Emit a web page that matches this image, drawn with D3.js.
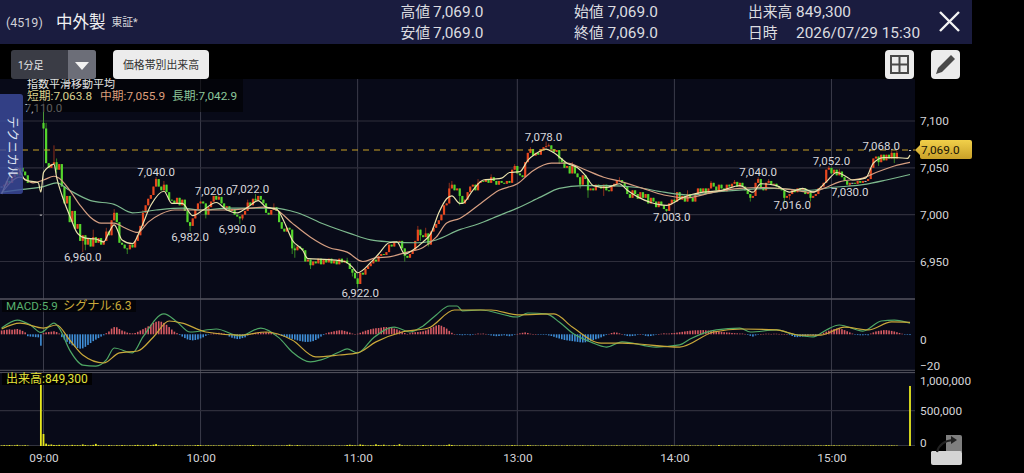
<!DOCTYPE html>
<html>
<head>
<meta charset="utf-8">
<script src="https://cdn.jsdelivr.net/npm/d3@7/dist/d3.min.js"></script>
<style>
  html, body { margin: 0; padding: 0; background: #000; overflow: hidden; }
  svg { display: block; }
  text { font-family: Roboto, "Noto Sans CJK JP", sans-serif; }
</style>
</head>
<body>
<svg id="chart" width="1024" height="473"></svg>
<script>
// ── Data ──────────────────────────────────────────────────────────────────────
// Bars count in minutes from 09:00; negative bars are the tail of the day before.
var firstBar = -16;
var closes = [
  7030,7032,7036,7034,7040,7044,7042,7050,7046,7042,7034,
  null,null,null,null,7000,
  7092,7055,7050,7054,7056,7048,7054,7030,7012,7020,
  6992,7004,6985,6990,6972,6978,6968,6974,6966,6976,
  6970,6975,6968,6972,6982,6978,6994,7002,6992,6970,
  6968,6964,6963,6968,6965,6972,6978,6988,7002,7010,
  7017,7021,7030,7038,7030,7026,7032,7024,7016,7015,
  7012,7018,7010,7016,7004,6992,6988,6996,7006,7012,
  7014,7012,7000,7008,7014,7020,7016,7019,7012,7006,
  7009,7004,7006,7000,6998,6996,7000,7004,7013,7010,
  7017,7015,7020,7016,7012,7002,7000,7005,7008,7004,
  6992,6985,6982,6986,6984,6964,6962,6966,6964,6962,
  6950,6952,6946,6950,6948,6953,6947,6952,6949,6953,
  6948,6951,6947,6953,6949,6951,6948,6942,6938,6932,
  6926,6938,6936,6942,6945,6948,6952,6950,6956,6958,
  6957,6960,6968,6966,6971,6970,6972,6964,6956,6954,
  6958,6962,6972,6984,6978,6976,6980,6968,6982,6986,6990,
  6994,7000,7010,7012,7028,7032,7026,7028,7020,7012,
  7016,7024,7030,7032,7026,7034,7036,7035,7038,7034,
  7040,7036,7032,7036,7034,7033,7036,7034,7048,7052,
  7044,7042,7040,7056,7066,7070,7063,7066,7064,7070,
  7072,7073,7074,7070,7067,7069,7060,7056,7050,7052,
  7044,7052,7044,7040,7032,7042,7038,7026,7028,7026,
  7032,7030,7028,7032,7026,7025,7030,7033,7036,7037,
  7034,7030,7022,7018,7026,7022,7017,7024,7018,7022,
  7012,7018,7014,7008,7014,7010,7006,7004,7012,7016,
  7014,7024,7016,7020,7014,7022,7018,7014,7022,7028,
  7024,7028,7022,7028,7034,7030,7026,7032,7028,7025,
  7032,7030,7033,7035,7030,7034,7030,7026,7022,7018,
  7020,7034,7038,7028,7026,7034,7036,7032,7033,7030,
  7028,7026,7018,7020,7022,7026,7024,7028,7026,7028,
  7022,7024,7018,7020,7022,7028,7030,7034,7048,7050,
  7044,7048,7042,7046,7040,7036,7032,7034,7034,7033,
  7036,7034,7036,7036,7038,7050,7060,7062,7056,7064,
  7058,7064,7060,7066,7060,7066,
  null,null,null,null,7069
];
// Opens that do not sit on the previous close: [bar, price]
var gapOpens = [[0,7098],[331,7069]];
var wickHighs = [[-9,7053],[0,7110],[1,7098],[4,7074],[5,7060],[14,6982],[19,6984],[24,6986],[27,7006],[38,7005],
  [43,7040],[46,7036],[55,7006],[65,7020],[67,7022],[78,7016],[81,7022],[88,7012],[96,6968],[102,6952],
  [116,6954],[143,6988],[146,6986],[155,7034],[156,7036],[166,7038],[171,7043],[180,7054],[186,7072],[192,7078],
  [193,7076],[202,7056],[220,7040],[246,7026],[255,7036],[264,7037],[273,7040],[277,7038],[300,7052],[304,7049],
  [324,7068],[326,7068]];
var wickLows = [[5,7044],[15,6960],[16,6962],[19,6966],[32,6958],[36,6972],[56,6982],[62,6996],[75,6990],[76,6994],
  [95,6958],[96,6954],[102,6942],[118,6934],[120,6922],[138,6950],[144,6972],[147,6966],[159,7010],[197,7054],
  [208,7018],[205,7028],[214,7020],[240,7010],[238,7003],[270,7014],[283,7012],[285,7016],[293,7014],[308,7030],
  [319,7052],[325,7055]];

var shortBars = [-16,-10,-7,-2,-1,0,2,4,5,7,10,13,16,20,23,25,27,30,34,37,41,46,49,53,57,61,66,70,74,78,82,85,89,92,95,99,101,109,115,118,120,125,128,132,135,138,141,145,148,151,154,156,159,160,164,168,172,175,178,182,185,188,192,195,200,204,207,210,215,220,223,227,232,238,244,247,252,259,266,271,274,280,285,290,294,299,303,307,309,314,317,321,326,330,331];
var shortEma  = [7022,7050,7037,7034,7024,7045,7051,7054,7040,7021,6999,6980,6975,6974,6971,6981,6989,6973,6969,6984,7010,7025,7012,7012,6999,7005,7013,7005,7002,7008,7015,7008,7006,6992,6973,6962,6953,6952,6950,6944,6938,6949,6958,6970,6971,6958,6962,6971,6980,7002,7017,7020,7012,7012,7026,7037,7038,7039,7045,7046,7058,7065,7070,7066,7055,7050,7042,7031,7029,7033,7026,7019,7013,7010,7018,7021,7024,7026,7031,7024,7033,7031,7024,7028,7024,7035,7045,7040,7037,7039,7055,7061,7061,7060,7063.8];
var midBars = [-16,-9,-4,0,4,6,10,14,18,22,27,31,36,40,45,50,55,64,71,84,89,95,102,109,116,122,127,132,139,145,150,154,159,167,174,181,187,194,200,206,214,221,229,237,246,256,266,275,285,293,298,304,313,318,325,331];
var midEma  = [7023,7040,7034,7037,7041,7039,7026,7010,6997,6991,6991,6986,6981,6992,7001,7005,7005,7005,7005,7008,7005,6991,6976,6965,6960,6950,6954,6955,6960,6965,6976,6991,6996,7012,7026,7033,7047,7055,7055,7049,7040,7035,7028,7021,7018,7024,7028,7029,7027,7024,7028,7035,7039,7045,7052,7055.9];
var longBars = [-16,-8,0,5,10,18,27,34,43,53,60,71,88,97,107,117,125,132,143,150,159,166,174,181,190,197,206,216,227,237,247,260,279,292,301,313,322,331];
var longEma  = [7024,7027,7030,7034,7026,7015,7011,7002,7005,7007,7005,7007,7007,7002,6990,6980,6973,6971,6970,6973,6984,6990,6999,7007,7019,7028,7031,7031,7029,7024,7021,7025,7028,7026,7029,7032,7037,7042.9];

var macdBars = [-16,-10,-5,-1,4,6,10,15,20,24,27,34,38,46,51,56,66,75,83,90,95,102,106,113,116,120,126,134,140,145,150,155,158,160,167,181,185,192,197,202,209,215,221,234,243,247,257,266,270,280,286,294,299,304,313,320,325,331];
var macdLine = [3.3,7.5,4.9,1,5.9,3.3,-8.3,-16.2,-16.7,-13.5,-7.2,-9.8,-1.4,10.7,6.5,1.2,2.8,-0.9,3.3,-1.9,-9.3,-14.5,-13.5,-9.3,-7.7,-9.8,-1.9,3.8,1.2,4.4,10.2,14.9,14.9,12.3,12.8,9.1,11.2,10.7,6.5,0.7,-4,-6.7,-4,-6.7,-5.6,-2.5,2.3,3.3,1.2,2.3,0.2,-1.4,2.3,4.9,1.7,7,7.5,5.9];
var signalBars = [-16,-9,0,5,10,15,23,29,36,42,48,53,62,75,85,95,104,113,120,127,137,147,157,171,181,195,202,213,221,243,256,267,280,289,297,306,315,324,331];
var signalLine = [2.8,5.9,3.3,4.9,-3,-10.9,-15.1,-9.8,-8.8,-1.4,7,5.9,1.2,-0.4,1.2,-3,-11.9,-10.9,-9.8,-4,1.2,3.3,12.8,12.8,10.2,10.7,3.8,-4.6,-4.6,-6.7,1.2,2.8,2.3,-0.4,-0.4,3.8,2.3,6.5,6.3];

// One histogram value per bar, same order as closes
var histogram = [
  2,2.2,2.4,2.6,2.4,2.6,2.8,2.4,1.8,1,-1,
  -1.2,-1.3,-1.5,-1.6,-6,
  0.6,1,1.2,1.4,1.6,1.2,0.4,-1.5,-2.8,-4,
  -5,-5.8,-6.6,-7.2,-7.6,-7.4,-6.6,-5.6,-4.6,-3.6,
  -2.8,-2,-1.2,-0.5,0.6,1.5,3,3.8,3.7,2.8,
  2,1.5,0.9,0.6,0.5,0.7,1.3,2,2.7,3.4,
  4.2,5,6,6.6,6.9,6.6,6,5,3.8,2.5,
  1.4,0.6,-0.4,-1.2,-2,-2.7,-3,-3.2,-3,-2.7,
  -2.2,-1.6,-0.8,-0.2,0.3,0.6,0.7,0.8,0.6,0.4,
  -0.4,-1.2,-1.8,-2.2,-2.5,-2.4,-2,-1.6,-0.6,0.2,
  0.5,0.8,1,1.1,1,1.2,1.1,0.9,0.5,0.1,
  -0.4,-0.9,-1.3,-1.6,-2,-2.4,-2.8,-3.2,-3.5,-3.8,
  -4,-4,-3.9,-3.6,-3,-2.2,-1.2,-0.4,0.5,1,
  1.3,1.6,1.9,2.1,2.1,1.8,1.4,0.9,0.4,0.1,
  0.3,0.8,1.4,1.9,2.3,2.7,3,3.2,3.3,3.5,
  3.8,3.8,3.6,3.4,3,2.6,2,1.4,0.7,0.2,
  0.6,1,1.1,1.2,1.4,1.6,2,2.6,3.3,4,4.6,
  4.9,4.5,3.8,3,1.8,0.8,0.1,-0.2,-0.4,-0.5,
  -0.4,-0.3,-0.5,-0.3,0.2,0.4,0.3,0.4,0.2,-0.3,
  -0.6,-0.8,-1,-0.9,-0.7,-0.5,-0.8,-1,-0.7,-0.3,
  0.2,0.5,0.8,1,0.7,0.3,0.1,0,-0.1,-0.2,
  -0.3,-0.3,-0.6,-0.9,-1.3,-1.8,-2.2,-2.6,-3,-3.2,
  -3.4,-3.6,-3.8,-4,-4.2,-4.3,-4.2,-3.8,-3.4,-3,
  -2.6,-2.2,-1.6,-1,-0.4,0.2,0.7,1,0.9,0.5,
  0.1,-0.5,-0.9,-1,-0.9,-0.7,-0.3,0.1,-0.3,-0.8,
  -1,-0.9,-0.6,-0.2,0.1,0.3,0.5,0.4,0.4,0.6,
  0.7,0.9,1.1,1.3,1.5,1.7,1.9,2,2.1,2.1,
  2.2,2.2,2.1,2,1.9,1.8,1.6,1.5,1.3,1.1,
  1,0.9,0.7,0.6,0.5,0.4,0.4,0.2,-0.3,-0.8,
  -1.2,-0.6,-0.1,0.1,0.2,0.3,0.3,0.2,0.3,0.3,
  0.2,0.2,0.1,0.1,-0.4,-0.9,-1.4,-1.5,-1.3,-1.2,
  -1,-0.6,-0.3,-0.5,-0.8,-0.4,0.2,0.8,1.4,1.9,
  2.4,2.8,3,3,2.7,2.2,1.6,1,0.4,-0.1,
  -0.4,-0.5,-0.5,-0.4,-0.5,0.4,1,1.5,1.8,2,
  2.2,2.2,2,1.8,1.5,1.1,
  0.7,0.3,-0.1,-0.3,-0.4
];

// Volume in thousands of shares, same order as closes
var volumes = [
  8,12,9,14,7,10,16,6,8,11,6,
  0,0,0,0,1400,
  170,34,18,22,14,12,16,9,12,11,
  8,16,10,12,9,22,14,8,10,16,
  30,12,8,10,7,14,9,6,11,8,
  13,10,7,9,8,12,16,9,11,7,
  14,10,18,26,9,7,11,6,8,12,
  7,10,6,5,8,9,7,6,11,14,
  12,6,8,10,7,9,6,8,11,7,
  5,9,7,6,8,10,6,7,9,11,
  14,8,6,9,7,6,8,5,7,9,
  6,8,7,11,18,9,6,14,8,7,
  6,5,8,7,6,9,5,7,6,8,
  7,9,6,8,5,7,14,18,12,9,
  7,22,16,8,7,11,9,24,14,10,
  18,7,9,6,14,8,26,10,7,9,
  8,6,7,10,6,14,9,7,12,8,6,
  10,7,9,12,22,14,8,6,9,7,
  8,10,6,7,9,6,8,5,7,10,
  6,9,7,5,8,6,9,7,12,10,
  8,6,9,7,14,10,6,8,5,7,
  9,12,8,6,7,9,5,8,6,10,
  7,5,8,6,7,9,6,5,8,10,
  6,7,5,6,8,5,7,6,9,5,
  6,8,7,5,6,7,5,8,6,7,
  5,6,7,5,8,6,5,7,6,8,
  6,5,7,9,5,6,8,5,6,7,
  5,8,6,5,7,6,5,14,8,6,
  5,7,6,8,5,6,5,7,6,5,
  8,9,6,5,7,6,5,6,7,5,
  6,5,8,5,6,7,5,6,7,5,
  6,7,5,6,8,9,7,6,12,10,
  7,9,6,8,5,6,7,5,6,7,
  6,5,7,6,5,8,9,7,6,8,
  7,6,8,9,7,6,
  0,0,0,0,849.3
];

var priceTicks = [7100, 7050, 7000, 6950];
var macdTicks = [0, -20];
var volumeTicks = [1000, 500, 0];
var timeBars = [0, 60, 120, 181, 241, 301];
var timeLabels = ["09:00", "10:00", "11:00", "13:00", "14:00", "15:00"];

// Peak and trough labels: [bar the label centres on, price, 1 above / -1 below]
var peakLabels = [[0,7110,1],[15,6960,-1],[43,7040,1],[56,6982,-1],[65,7020,1],[74,6990,-1],[79,7022,1],
  [121,6922,-1],[191,7078,1],[240,7003,-1],[273,7040,1],[286,7016,-1],[301,7052,1],[308,7030,-1],[320,7068,1]];

var lastPrice = 7069;
var headerLeft  = [["高値", "7,069.0"], ["安値", "7,069.0"]];
var headerMid   = [["始値", "7,069.0"], ["終値", "7,069.0"]];
var headerRight = [["出来高", "849,300"], ["日時", "2026/07/29 15:30"]];

// ── Scales ────────────────────────────────────────────────────────────────────
var W = 1024, H = 473, plotRight = 915, plotTop = 79, plotBottom = 446;
var x = d3.scaleLinear().domain([0, 331]).range([43.5, 910]);
var yPrice = d3.scaleLinear().domain([6950, 7100]).range([261.5, 121]);
var yMacd = d3.scaleLinear().domain([-20, 0]).range([372.3, 334.3]);
var yVol = d3.scaleLinear().domain([0, 1000]).range([446, 375.3]);

var svg = d3.select("#chart").attr("viewBox", "0 0 " + W + " " + H);
var fmtPrice = d3.format(",.1f");

// ── Chrome behind the plot ────────────────────────────────────────────────────
svg.append("rect").attr("width", W).attr("height", H).attr("fill", "#000");
svg.append("rect").attr("width", 972).attr("height", 44).attr("fill", "#1a1c3f");
svg.append("rect").attr("y", plotTop).attr("width", plotRight).attr("height", plotBottom - plotTop).attr("fill", "#080a18");

var defs = svg.append("defs");
function addClip(id, top, bottom) {
  defs.append("clipPath").attr("id", id).append("rect")
    .attr("x", 0).attr("y", top).attr("width", plotRight).attr("height", bottom - top);
}
addClip("clip-price", plotTop, 298);
addClip("clip-macd", 300, 370);
addClip("clip-vol", 373, plotBottom);

// ── Grid ──────────────────────────────────────────────────────────────────────
var grid = svg.append("g");
grid.selectAll(".v").data(timeBars).join("line")
  .attr("x1", function (d) { return x(d); }).attr("x2", function (d) { return x(d); })
  .attr("y1", plotTop).attr("y2", plotBottom)
  .attr("stroke", "#3b3c4a").attr("stroke-width", 1);
grid.selectAll(".h").data(priceTicks).join("line")
  .attr("x1", 0).attr("x2", plotRight)
  .attr("y1", function (d) { return yPrice(d); }).attr("y2", function (d) { return yPrice(d); })
  .attr("stroke", "#2e2e3b").attr("stroke-width", 1.2);
grid.append("line").attr("x1", 0).attr("x2", plotRight)
  .attr("y1", yVol(500)).attr("y2", yVol(500)).attr("stroke", "#2e2e3b").attr("stroke-width", 1.2);
[[299, 1.4, "#55555f"], [370.3, 1, "#55555f"], [372.6, 1, "#55555f"]].forEach(function (l) {
  grid.append("line").attr("x1", 0).attr("x2", plotRight).attr("y1", l[0]).attr("y2", l[0])
    .attr("stroke", l[2]).attr("stroke-width", l[1]);
});
grid.append("line").attr("x1", 0).attr("x2", plotRight).attr("y1", plotBottom - 0.5).attr("y2", plotBottom - 0.5)
  .attr("stroke", "#33343f").attr("stroke-width", 1);

// ── Candles ───────────────────────────────────────────────────────────────────
var gapOpenMap = new Map(gapOpens);
var highMap = new Map(wickHighs);
var lowMap = new Map(wickLows);

var candles = closes.map(function (c, i) {
  if (c === null) return null;
  var prev = i > 0 ? closes[i - 1] : null;
  var bar = firstBar + i;
  var o = gapOpenMap.has(bar) ? gapOpenMap.get(bar) : (prev === null ? c : prev);
  return {
    bar: bar, open: o, close: c,
    high: Math.max(o, c, highMap.get(bar) || -Infinity),
    low: Math.min(o, c, lowMap.get(bar) || Infinity)
  };
}).filter(Boolean);

function candleColor(d) {
  if (d.close > d.open) return "#e8481f";
  if (d.close < d.open) return "#54d62c";
  return "#d5d5d5";
}

var dashY = yPrice(lastPrice);
var priceG = svg.append("g").attr("clip-path", "url(#clip-price)");

priceG.append("g").selectAll("line").data(candles).join("line")
  .attr("x1", function (d) { return x(d.bar); }).attr("x2", function (d) { return x(d.bar); })
  .attr("y1", function (d) { return yPrice(d.high); }).attr("y2", function (d) { return yPrice(d.low); })
  .attr("stroke", candleColor).attr("stroke-opacity", 0.75).attr("stroke-width", 0.8);

priceG.append("g").selectAll("rect").data(candles).join("rect")
  .attr("x", function (d) { return x(d.bar) - 1.1; })
  .attr("width", 2.2)
  .attr("y", function (d) { return yPrice(Math.max(d.open, d.close)); })
  .attr("height", function (d) { return Math.max(0.9, Math.abs(yPrice(d.open) - yPrice(d.close))); })
  .attr("fill", candleColor);

function drawLine(g, scale, bars, values, color, width) {
  g.append("path")
    .datum(d3.zip(bars, values))
    .attr("fill", "none").attr("stroke", color).attr("stroke-width", width)
    .attr("d", d3.line()
      .x(function (d) { return x(d[0]); })
      .y(function (d) { return scale(d[1]); })
      .curve(d3.curveMonotoneX));
}
drawLine(priceG, yPrice, longBars, longEma, "#7db98e", 1.2);
drawLine(priceG, yPrice, midBars, midEma, "#d69f82", 1.2);
drawLine(priceG, yPrice, shortBars, shortEma, "#ebe3ad", 1.2);

svg.append("line").attr("x1", 0).attr("x2", plotRight).attr("y1", dashY).attr("y2", dashY)
  .attr("stroke", "#c9a227").attr("stroke-width", 1.1).attr("stroke-dasharray", "6 5");

// Peak labels
svg.append("g").selectAll("text").data(peakLabels).join("text")
  .attr("x", function (d) { return x(d[0]); })
  .attr("y", function (d) { return yPrice(d[1]) - d[2] * (d[1] === 7110 ? 4 : 5); })
  .attr("text-anchor", "middle").attr("dominant-baseline", "central")
  .attr("font-size", 11.5).attr("fill", "#d8d8dc")
  .text(function (d) { return fmtPrice(d[1]); });

// ── MACD panel ────────────────────────────────────────────────────────────────
var macdG = svg.append("g").attr("clip-path", "url(#clip-macd)");
var histData = histogram.map(function (v, i) { return { bar: firstBar + i, v: v }; });
macdG.append("g").selectAll("rect").data(histData).join("rect")
  .attr("x", function (d) { return x(d.bar) - 0.8; })
  .attr("width", 1.6)
  .attr("y", function (d) { return yMacd(Math.max(0, d.v)); })
  .attr("height", function (d) { return Math.max(0.5, Math.abs(yMacd(d.v) - yMacd(0))); })
  .attr("fill", function (d) { return d.v >= 0 ? "#d65a62" : "#3f8fd8"; });
drawLine(macdG, yMacd, macdBars, macdLine, "#4fa866", 1.2);
drawLine(macdG, yMacd, signalBars, signalLine, "#c9a83a", 1.2);

// ── Volume panel ──────────────────────────────────────────────────────────────
var volG = svg.append("g").attr("clip-path", "url(#clip-vol)");
var volData = volumes.map(function (v, i) { return { bar: firstBar + i, v: v }; });
volG.selectAll("rect").data(volData).join("rect")
  .attr("x", function (d) { return x(d.bar) - 0.9; })
  .attr("width", 1.8)
  .attr("y", function (d) { return yVol(d.v); })
  .attr("height", function (d) { return yVol(0) - yVol(d.v); })
  .attr("fill", "#e8e81e");

// ── Axes ──────────────────────────────────────────────────────────────────────
function styleAxis(g) {
  g.select(".domain").remove();
  g.selectAll("text").attr("fill", "#d4d4d8").attr("font-size", 11.8)
    .attr("font-family", "Roboto, sans-serif");
}
var axisX = 920;
svg.append("g").attr("transform", "translate(" + axisX + ",0)")
  .call(d3.axisRight(yPrice).tickValues(priceTicks).tickSize(0).tickPadding(0).tickFormat(d3.format(",")))
  .call(styleAxis);
svg.append("g").attr("transform", "translate(" + axisX + ",0)")
  .call(d3.axisRight(yMacd).tickValues(macdTicks).tickSize(0).tickPadding(0).tickFormat(d3.format("d")))
  .call(styleAxis)
  .selectAll("text").attr("dy", function (d) { return d === 0 ? "0.77em" : "-0.23em"; });
svg.append("g").attr("transform", "translate(" + axisX + ",0)")
  .call(d3.axisRight(yVol).tickValues(volumeTicks).tickSize(0).tickPadding(0)
    .tickFormat(function (d) { return d3.format(",")(d * 1000); }))
  .call(styleAxis)
  .selectAll("text").attr("dy", function (d) { return d === 1000 ? "0.8em" : d === 0 ? "0em" : "0.32em"; });
svg.append("g").attr("transform", "translate(0,454)")
  .call(d3.axisBottom(x).tickValues(timeBars).tickSize(0).tickPadding(0)
    .tickFormat(function (d, i) { return timeLabels[i]; }))
  .call(styleAxis);

// ── Price tag ─────────────────────────────────────────────────────────────────
var tagG = svg.append("g");
var grad = defs.append("linearGradient").attr("id", "tag-fill").attr("x1", 0).attr("x2", 0).attr("y1", 0).attr("y2", 1);
grad.append("stop").attr("offset", 0).attr("stop-color", "#f1d04a");
grad.append("stop").attr("offset", 1).attr("stop-color", "#c9a028");
tagG.append("path")
  .attr("d", "M915," + dashY + "l5,-5v-3q0,-2 2,-2h48q2,0 2,2v15q0,2 -2,2h-48q-2,0 -2,-2v-2z")
  .attr("fill", "url(#tag-fill)");
tagG.append("text").attr("x", 921).attr("y", dashY).attr("dominant-baseline", "central")
  .attr("font-size", 11.8).attr("fill", "#1a1508").text(fmtPrice(lastPrice));

// ── Panel captions ────────────────────────────────────────────────────────────
// The box sits over the 7,110.0 label and dims it, as in the app
svg.append("rect").attr("x", 27).attr("y", 79).attr("width", 216).attr("height", 33).attr("fill", "#000").attr("fill-opacity", 0.58);
function label(px, py, str, color, size) {
  return svg.append("text").attr("x", px).attr("y", py).attr("dominant-baseline", "central")
    .attr("font-size", size).attr("fill", color).text(str);
}
label(27, 84.5, "指数平滑移動平均", "#e4e4e4", 11);
label(27, 96, "短期:7,063.8", "#d9d08e", 11.8);
label(100, 96, "中期:7,055.9", "#dd9f7c", 11.8);
label(172, 96, "長期:7,042.9", "#8cc79a", 11.8);

svg.append("rect").attr("x", 2).attr("y", 300).attr("width", 134).attr("height", 12).attr("fill", "#000").attr("fill-opacity", 0.6);
label(6, 306, "MACD:5.9", "#58b06e", 11.6);
label(63, 306, "シグナル:6.3", "#c9a83a", 12.2);
svg.append("rect").attr("x", 2).attr("y", 373).attr("width", 90).attr("height", 12).attr("fill", "#000").attr("fill-opacity", 0.88);
label(6, 379, "出来高:849,300", "#e2e23a", 12);

// Technical tab
svg.append("path").attr("d", "M0,94H20q3,0 3,3V191q0,3 -3,3H0z")
  .attr("fill", "#3c4c9e").attr("fill-opacity", 0.82);
svg.append("text").attr("transform", "translate(12,116) rotate(90)")
  .attr("dominant-baseline", "central").attr("font-size", 12.5).attr("fill", "#dfe3f2").text("テクニカル");

// ── Header ────────────────────────────────────────────────────────────────────
label(6, 22.5, "(4519)", "#cfcfd6", 12.5);
label(56, 22.5, "中外製", "#f0f0f2", 16.5);
label(111.5, 22.5, "東証*", "#d8d8dc", 10.8);

function headerPairs(pairs, keyX, valX) {
  pairs.forEach(function (p, i) {
    var py = i === 0 ? 11.5 : 33;
    label(keyX, py, p[0], "#dcdce0", 14.8);
    label(valX, py, p[1], "#dcdce0", 15.4);
  });
}
headerPairs(headerLeft, 400.5, 433);
headerPairs(headerMid, 574, 607.5);
headerPairs(headerRight, 748, 796);

svg.append("path").attr("d", "M940,12L959,31M959,12L940,31")
  .attr("stroke", "#f4f4f4").attr("stroke-width", 2.4).attr("fill", "none");

// ── Buttons ───────────────────────────────────────────────────────────────────
svg.append("rect").attr("x", 11).attr("y", 50).attr("width", 85).attr("height", 29).attr("rx", 3).attr("fill", "#3a3c45");
svg.append("path").attr("d", "M68,50H93q3,0 3,3V76q0,3 -3,3H68z").attr("fill", "#6c6e78");
svg.append("path").attr("d", "M75,62H89L82,70z").attr("fill", "#f2f2f2");
label(18, 65, "1分足", "#e6e6e8", 10);

svg.append("rect").attr("x", 113).attr("y", 50).attr("width", 96).attr("height", 29).attr("rx", 4).attr("fill", "#ececec");
svg.append("text").attr("x", 161).attr("y", 65).attr("text-anchor", "middle").attr("dominant-baseline", "central")
  .attr("font-size", 10.9).attr("fill", "#333").text("価格帯別出来高");

svg.append("rect").attr("x", 885).attr("y", 50).attr("width", 29).attr("height", 29).attr("rx", 4).attr("fill", "#ececec");
svg.append("path").attr("d", "M891,56H908V73H891zM899.5,56V73M891,64.5H908")
  .attr("fill", "none").attr("stroke", "#4a4a4a").attr("stroke-width", 2);

svg.append("rect").attr("x", 931).attr("y", 50).attr("width", 29).attr("height", 29).attr("rx", 4).attr("fill", "#ececec");
svg.append("path").attr("d", "M936,74L938,68L951,55L955,59L942,72z").attr("fill", "#4a4a4a");

// Panel swap icon, bottom right
svg.append("path").attr("d", "M946,435H960q2,0 2,2V452H946z").attr("fill", "#7f7f7f");
svg.append("path").attr("d", "M932,451H960q2,0 2,2V463q0,2 -2,2H933q-2,0 -2,-2V452z").attr("fill", "#d4d4d4");
svg.append("path").attr("d", "M937,452Q940,441 953,440").attr("fill", "none").attr("stroke", "#222").attr("stroke-width", 2.2);
svg.append("path").attr("d", "M951,436L957,440L951,444z").attr("fill", "#222");
</script>
</body>
</html>
